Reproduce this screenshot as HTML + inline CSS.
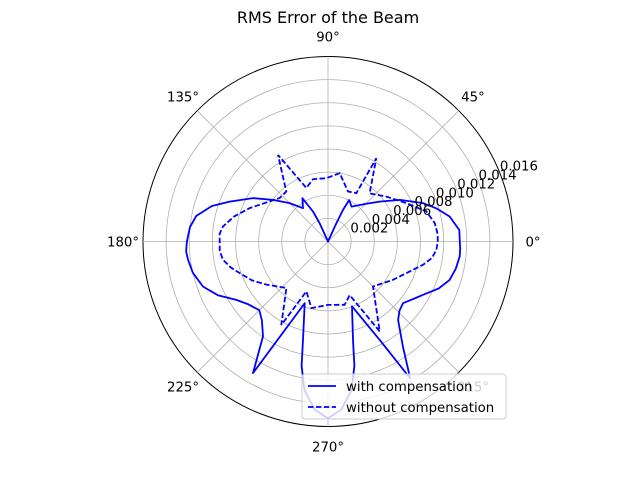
<!DOCTYPE html>
<html><head><meta charset="utf-8"><style>
html,body{margin:0;padding:0;background:#fff;}
svg text{font-family:"DejaVu Sans","Liberation Sans",sans-serif;font-size:13.3px;fill:#000;}
</style></head><body>
<svg id="chart" width="640" height="480" viewBox="0 0 640 480">
<text x="328" y="23" text-anchor="middle" style="font-size:16px">RMS Error of the Beam</text>
<g id="grid"></g>
<g id="series"></g>
<g id="labels"></g>
<g id="legend">
<rect x="302" y="374" width="204" height="45" rx="3" fill="#fff" fill-opacity="0.8" stroke="#ccc"/>
<line x1="308" y1="386" x2="336" y2="386" stroke="blue" stroke-width="1.8"/>
<text x="346" y="391">with compensation</text>
<line x1="308" y1="407" x2="336" y2="407" stroke="blue" stroke-width="1.8" stroke-dasharray="5.5,2.4"/>
<text x="346" y="412">without compensation</text>
</g>
</svg>
<script>
const rTicks=[0.002,0.004,0.006,0.008,0.010,0.012,0.014,0.016];
const rTickLabels=["0.002","0.004","0.006","0.008","0.010","0.012","0.014","0.016"];
const thetaTicks=[0,45,90,135,180,225,270,315];
const thetaLabels=["0°","45°","90°","135°","180°","225°","270°","315°"];
const withAngles=[0,5,11.6,17,22,30,37.7,45,56,63,64.6,65.5,90,114.5,116.6,120.6,126.9,135,142.9,150,157.9,163,169,174,180,184,187.5,193,199.8,206,212.5,218,225,230,235.6,240.3,249.3,255.7,258,261,265.5,270,274.5,279,282,284.3,290.3,297.7,301,305.5,311.8,316,320.6,326,330.7,337,342.5,348,353.5,357];
const withValues=[0.0114,0.0114,0.01074,0.0098,0.00886,0.0072,0.00565,0.0046,0.00364,0.00403,0.00303,0.0017,0,0.0017,0.0029,0.00435,0.0036,0.0047,0.00597,0.0075,0.00918,0.0105,0.0116,0.012,0.0122,0.0123,0.0122,0.012,0.0115,0.0106,0.0094,0.0088,0.0084,0.0089,0.00995,0.0131,0.0057,0.00877,0.011,0.013,0.0146,0.01528,0.0146,0.013,0.011,0.00877,0.00598,0.0096,0.0138,0.01116,0.0091,0.0086,0.0084,0.0089,0.00942,0.0104,0.01103,0.0113,0.01146,0.01145];
const withoutAngles=[0,4,9.75,17,26,37.6,49.2,59.9,59.6,68.2,80.3,91.5,103.5,112,120,129.8,138,156.9,165,171.9,176,180,185,189.9,195,199.7,207,215,228.2,240.8,246.6,256,270,284.7,292,299.9,315,329.5,346.2,351,355.6];
const withoutValues=[0.0095,0.0095,0.00937,0.0089,0.00755,0.00637,0.0055,0.00833,0.00485,0.00466,0.006,0.00548,0.00554,0.005,0.00865,0.00563,0.00562,0.00736,0.0084,0.00918,0.0094,0.00937,0.0094,0.00922,0.0087,0.0081,0.0074,0.0065,0.0054,0.00827,0.0047,0.00594,0.00548,0.00566,0.005,0.00897,0.0055,0.00652,0.00846,0.0091,0.0094];
const NS="http://www.w3.org/2000/svg";
const cx=328,cy=241.5,R=185,rMax=0.016;
function rScale(v){return v/rMax*R;}
function px(a,v){return cx+rScale(v)*Math.cos(a*Math.PI/180);}
function py(a,v){return cy-rScale(v)*Math.sin(a*Math.PI/180);}
function mk(t,attrs,parent){const e=document.createElementNS(NS,t);for(const k in attrs)e.setAttribute(k,attrs[k]);parent.appendChild(e);return e;}
const grid=document.getElementById('grid');
rTicks.forEach((v,i)=>{
 const c=mk('circle',{cx:cx,cy:cy,r:rScale(v),fill:'none',stroke:i===rTicks.length-1?'#000':'#b0b0b0','stroke-width':i===rTicks.length-1?1:0.8},grid);
 
 
});
thetaTicks.forEach(a=>{
 const l=mk('line',{x1:cx,y1:cy,x2:px(a,rMax),y2:py(a,rMax),stroke:'#b0b0b0','stroke-width':0.8},grid);
 
 
});
const labels=document.getElementById('labels');
thetaTicks.forEach((a,i)=>{
 const rr=205/R*rMax;
 const t=mk('text',{x:px(a,rr),y:py(a,rr)+5,'text-anchor':'middle'},labels);
 t.textContent=thetaLabels[i];
 
 
});
const series=document.getElementById('series');
function path(angles,vals){let d='';angles.forEach((a,i)=>{d+=(i?'L':'M')+px(a,vals[i]).toFixed(1)+','+py(a,vals[i]).toFixed(1);});return d+'Z';}
const p1=mk('path',{d:path(withAngles,withValues),fill:'none',stroke:'blue','stroke-width':1.8,'stroke-linejoin':'round'},series);


const p2=mk('path',{d:path(withoutAngles,withoutValues),fill:'none',stroke:'blue','stroke-width':1.8,'stroke-dasharray':'5.5,2.4'},series);


rTicks.forEach((v,i)=>{
 const t=mk('text',{x:px(22.5,v)+1,y:py(22.5,v)},labels);
 t.textContent=rTickLabels[i];
 
 
});
document.getElementById('chart').appendChild(document.getElementById('legend'));
</script>
</body></html>
